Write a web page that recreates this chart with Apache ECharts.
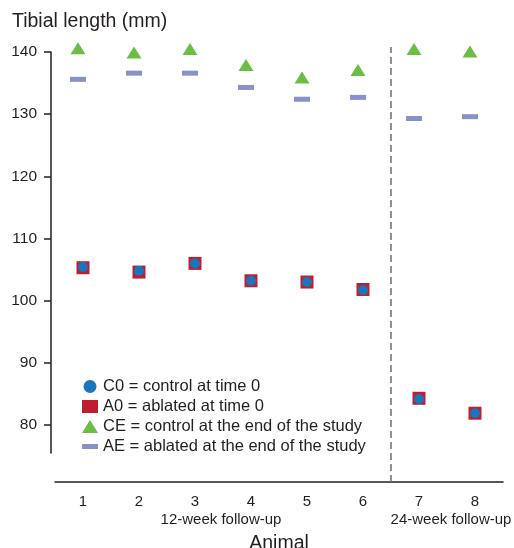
<!DOCTYPE html>
<html>
<head>
<meta charset="utf-8">
<script src="https://cdn.jsdelivr.net/npm/echarts@6/dist/echarts.min.js"></script>
<style>
html,body{margin:0;padding:0;background:#fff;}
#chart{width:514px;height:548px;}
</style>
</head>
<body>
<div id="chart"></div>
<script>
// ---- data ----
const animals = ['1', '2', '3', '4', '5', '6', '7', '8'];
const c0 = [105.4, 104.8, 106.0, 103.2, 103.0, 101.7, 84.2, 81.9];   // control at time 0
const a0 = [105.3, 104.6, 106.0, 103.2, 103.0, 101.8, 84.3, 81.9];   // ablated at time 0
const ce = [140.6, 139.9, 140.5, 137.9, 135.9, 137.1, 140.5, 140.1]; // control at end
const ae = [135.6, 136.6, 136.6, 134.3, 132.4, 132.7, 129.3, 129.6]; // ablated at end
const yTicks = [80, 90, 100, 110, 120, 130, 140];
const groupDivider = 6.5;
const names = {
  c0: 'C0 = control at time 0',
  a0: 'A0 = ablated at time 0',
  ce: 'CE = control at the end of the study',
  ae: 'AE = ablated at the end of the study'
};
const groupLabels = ['12-week follow-up', '24-week follow-up'];

const ink = '#231f20';
const font = 'Liberation Sans, Arial, Helvetica, sans-serif';

const chart = echarts.init(document.getElementById('chart'), null, {renderer: 'canvas'});
chart.setOption({
  animation: false,
  backgroundColor: '#fff',
  textStyle: {fontFamily: font, color: ink},
  title: {
    text: 'Tibial length (mm)',
    left: 12, top: 12, padding: 0,
    textStyle: {fontSize: 19.5, fontWeight: 'normal', color: ink, fontFamily: font}
  },
  legend: {
    orient: 'vertical',
    left: 77, top: 373,
    itemWidth: 16, itemHeight: 13, itemGap: 3,
    textStyle: {fontSize: 16.5, color: ink, fontFamily: font},
    data: [
      {name: names.c0, icon: 'circle'},
      {name: names.a0, icon: 'rect'},
      {name: names.ce, icon: 'triangle'},
      {name: names.ae, icon: 'path://M0,0H16V5H0Z'}
    ]
  },
  grid: [
    {left: 55, right: 11, top: 52, bottom: 95, containLabel: false, outerBoundsMode: 'none'},
    {left: 55, right: 11, top: 47, bottom: 66, containLabel: false, outerBoundsMode: 'none'}
  ],
  xAxis: [
    {
      type: 'category', gridIndex: 0, data: animals, boundaryGap: true,
      offset: 29,
      axisLine: {lineStyle: {color: ink, width: 1.5}},
      axisTick: {show: false},
      axisLabel: {fontSize: 15, color: ink, margin: 12.5, fontFamily: font},
      name: 'Animal', nameLocation: 'middle', nameGap: 52,
      nameTextStyle: {fontSize: 19.5, color: ink, fontFamily: font}
    },
    {type: 'value', gridIndex: 1, min: 0.5, max: 8.5, show: false}
  ],
  yAxis: [
    {
      type: 'value', gridIndex: 0, min: 75.5, max: 140, offset: 4,
      axisLine: {show: true, lineStyle: {color: ink, width: 1.5}},
      axisTick: {show: true, length: 7, customValues: yTicks, lineStyle: {color: ink, width: 1.5}},
      axisLabel: {customValues: yTicks, fontSize: 15.5, color: ink, margin: 14, fontFamily: font},
      splitLine: {show: false}
    },
    {type: 'value', gridIndex: 1, min: 0, max: 1, show: false}
  ],
  graphic: [
    {type: 'text', x: 221, y: 520, style: {text: groupLabels[0], align: 'center', verticalAlign: 'middle', fontSize: 15, fill: ink, fontFamily: font}},
    {type: 'text', x: 451, y: 520, style: {text: groupLabels[1], align: 'center', verticalAlign: 'middle', fontSize: 15, fill: ink, fontFamily: font}}
  ],
  series: [
    {
      name: names.a0, type: 'scatter', xAxisIndex: 0, yAxisIndex: 0, clip: false,
      data: a0, symbol: 'rect', symbolSize: 13,
      itemStyle: {color: '#be1e2d', opacity: 1}, z: 2
    },
    {
      name: names.c0, type: 'scatter', xAxisIndex: 0, yAxisIndex: 0, clip: false,
      data: c0, symbol: 'circle', symbolSize: 10,
      itemStyle: {color: '#1b75bc', opacity: 1}, z: 3
    },
    {
      name: names.ce, type: 'scatter', xAxisIndex: 0, yAxisIndex: 0, clip: false,
      data: ce, symbol: 'triangle', symbolSize: [15, 12], symbolOffset: [-5, 0],
      itemStyle: {color: '#6abd45', opacity: 1}, z: 2
    },
    {
      name: names.ae, type: 'scatter', xAxisIndex: 0, yAxisIndex: 0, clip: false,
      data: ae, symbol: 'rect', symbolSize: [16, 5], symbolOffset: [-5, 0],
      itemStyle: {color: '#8891c9', opacity: 1}, z: 2
    },
    {
      type: 'line', xAxisIndex: 1, yAxisIndex: 1, data: [],
      silent: true,
      markLine: {
        silent: true, symbol: 'none', label: {show: false},
        lineStyle: {type: [7, 4], color: '#6d6e71', width: 1.5},
        data: [{xAxis: groupDivider}]
      }
    }
  ]
});
</script>
</body>
</html>
